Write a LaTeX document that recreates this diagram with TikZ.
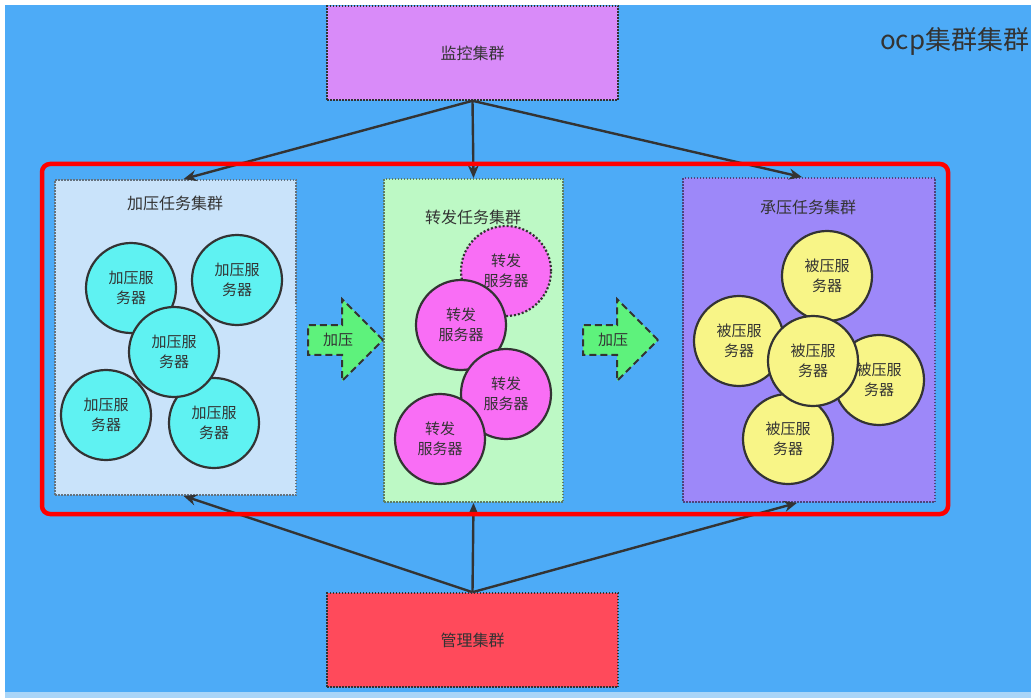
\documentclass[tikz,border=0pt]{standalone}
\usepackage{fontspec}
\setmainfont{Noto Sans CJK SC}
\usepackage{xcolor}
\usetikzlibrary{shapes.arrows, arrows.meta, positioning}
\definecolor{bgblue}{HTML}{4DABF7}
\definecolor{stripblue}{HTML}{A9D5F8}
\definecolor{monfill}{HTML}{D98BF9}
\definecolor{mgrfill}{HTML}{FF4A5B}
\definecolor{loadfill}{HTML}{C9E3FA}
\definecolor{fwdfill}{HTML}{BDF9C5}
\definecolor{recvfill}{HTML}{9D88F9}
\definecolor{cyansrv}{HTML}{5FF2F2}
\definecolor{pinksrv}{HTML}{F96EF5}
\definecolor{yellowsrv}{HTML}{F8F587}
\definecolor{pushgreen}{HTML}{5EF27C}
\definecolor{inkgray}{HTML}{333333}
\tikzset{
  % Boxes
  topbox/.style={rectangle, draw=inkgray, dash pattern=on 1.5pt off 1.5pt, line width=1.6pt, fill=#1, minimum width=291, minimum height=94, text=inkgray, font=\fontsize{16}{18}\selectfont},
  grpbox/.style={rectangle, draw=#1!50!black, dash pattern=on 1.5pt off 1.5pt, line width=1.8pt, fill=#1},
  grptitle/.style={text=inkgray, font=\fontsize{16}{18}\selectfont, inner sep=0pt},
  % Servers
  srv/.style={circle, draw=inkgray, line width=2.2pt, fill=#1, minimum size=90, inner sep=0pt, align=center, text=inkgray, font=\fontsize{15}{20}\selectfont},
  srv/.default={cyansrv},
  % Connectors
  conn/.style={-{Stealth[length=13pt, width=11pt]}, line width=2.4pt, draw=inkgray},
  pusharrow/.style={single arrow, single arrow head extend=26pt, minimum height=75, inner xsep=6pt, inner ysep=7pt, draw=inkgray, line width=2pt, dash pattern=on 7pt off 4pt, fill=pushgreen, text=inkgray, font=\fontsize{15}{17}\selectfont, anchor=tail},
}
\begin{document}
\begin{tikzpicture}[x=1pt, y=-1pt]
    \useasboundingbox (0,0) rectangle (1031,698);
    \clip (0,0) rectangle (1031,698);

    % Background
    \fill[white] (0,0) rectangle (1031,698);
    \fill[bgblue] (5,5) rectangle (1031,692);
    \fill[stripblue] (5,692) rectangle (1031,698);

    \node[anchor=west, text=inkgray, font=\fontsize{26}{28}\selectfont, inner sep=0pt] (ttl) at (880,42) {ocp集群集群};

    % Monitor and manager
    \node[topbox=monfill] (monitor) at (472.5,53) {监控集群};
    \node[topbox=mgrfill] (manager) at (472.5,640) {管理集群};

    % Task clusters
    \node[grpbox=loadfill, minimum width=241, minimum height=315] (loadgrp) at (175.5,337.5) {};
    \node[grpbox=fwdfill, minimum width=179, minimum height=323] (fwdgrp) at (473.5,340.5) {};
    \node[grpbox=recvfill, minimum width=252, minimum height=324] (recvgrp) at (809,340) {};

    % Arrows
    \draw[conn] (monitor.south) -- ([xshift=8pt]loadgrp.north);
    \draw[conn] (monitor.south) -- (fwdgrp.north);
    \draw[conn] (monitor.south) -- ([xshift=-7pt]recvgrp.north);
    \draw[conn] (manager.north) -- ([xshift=8pt]loadgrp.south);
    \draw[conn] (manager.north) -- (fwdgrp.south);
    \draw[conn] (manager.north) -- ([xshift=-12pt]recvgrp.south);

    \node[draw=red, line width=4.5pt, rounded corners=8pt, minimum width=906, minimum height=350] (focus) at (495,339) {};

    \node[grptitle] (loadttl) at (175,203) {加压任务集群};
    \node[grptitle] (fwdttl) at (473,217) {转发任务集群};
    \node[grptitle] (recvttl) at (808,207) {承压任务集群};

    % Load servers
    \node[srv] (load1) at (131,288) {加压服\\务器};
    \node[srv] (load2) at (237,280) {加压服\\务器};
    \node[srv] (load3) at (106,415) {加压服\\务器};
    \node[srv] (load4) at (214,423) {加压服\\务器};
    \node[srv] (load5) at (174,352) {加压服\\务器};

    % Forward servers
    \node[srv=pinksrv, dash pattern=on 2pt off 2pt] (fwd1) at (506,271) {转发\\服务器};
    \node[srv=pinksrv] (fwd2) at (461,325) {转发\\服务器};
    \node[srv=pinksrv] (fwd3) at (506,394) {转发\\服务器};
    \node[srv=pinksrv] (fwd4) at (440,439) {转发\\服务器};

    % Receiving servers
    \node[srv=yellowsrv] (recv1) at (827,276) {被压服\\务器};
    \node[srv=yellowsrv] (recv2) at (739,341) {被压服\\务器};
    \node[srv=yellowsrv] (recv3) at (879,380) {被压服\\务器};
    \node[srv=yellowsrv] (recv4) at (788,439) {被压服\\务器};
    \node[srv=yellowsrv] (recv5) at (813,361) {被压服\\务器};

    % Push arrows
    \node[pusharrow] (push1) at (307,340) {加压};
    \node[pusharrow] (push2) at (582,340) {加压};
  \end{tikzpicture}
\end{document}
